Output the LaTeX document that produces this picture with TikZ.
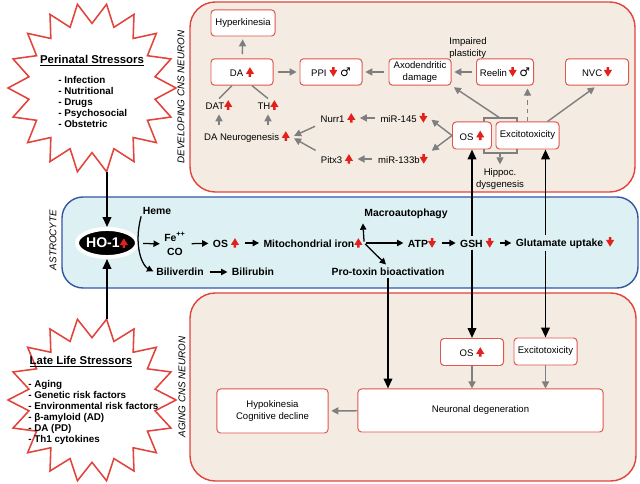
\documentclass[tikz,border=0pt]{standalone}
\usepackage{fontspec}
\setmainfont{Liberation Sans}
\newfontfamily\symfont{DejaVu Sans}
\usepackage{tikz}
\usetikzlibrary{arrows.meta,shapes.geometric}

\definecolor{panelred}{HTML}{E2433A}
\definecolor{boxred}{HTML}{E0574D}
\definecolor{beige}{HTML}{F4ECE2}
\definecolor{astrofill}{HTML}{DDF1F5}
\definecolor{astroblue}{HTML}{3356A6}
\definecolor{arrowgray}{HTML}{7F7F7F}
\definecolor{upred}{HTML}{E3201B}

% small red up / down marks
\newcommand{\upr}{\tikz[baseline=0pt,x=1pt,y=1pt,sharp corners]\path[fill=upred,draw=none] (-0.9,0)--(0.9,0)--(0.9,2)--(2.9,2)--(0,6.8)--(-2.9,2)--(-0.9,2)--cycle;}
\newcommand{\dnr}{\tikz[baseline=0pt,x=1pt,y=1pt,sharp corners]\path[fill=upred,draw=none] (0,0)--(2.9,4.8)--(0.9,4.8)--(0.9,6.8)--(-0.9,6.8)--(-0.9,4.8)--(-2.9,4.8)--cycle;}
\newcommand{\male}{{\symfont\fontsize{8.5}{8.5}\selectfont ♂}}

\begin{document}
\begin{tikzpicture}[x=0.025cm, y=-0.025cm,
  panel/.style={draw=panelred, line width=1pt, fill=beige, rounded corners=18pt},
  box/.style={draw=boxred, line width=0.7pt, fill=white, rounded corners=2.5pt, align=center, inner sep=1pt, font=\fontsize{6.8}{8}\selectfont},
  wbox/.style={box, minimum width=1.55cm, minimum height=0.66cm},
  txt/.style={align=center, inner sep=1pt, font=\fontsize{6.8}{8}\selectfont},
  btxt/.style={align=center, inner sep=1pt, font=\fontsize{7.4}{9}\selectfont\bfseries},
  sidelabel/.style={rotate=90, font=\fontsize{7}{8}\selectfont\itshape},
  starline/.style={draw=panelred, line width=1.1pt, fill=white},
  listtxt/.style={anchor=north west, align=left, inner sep=0pt, font=\fontsize{7}{7.9}\selectfont\bfseries},
  titletxt/.style={font=\fontsize{8.1}{9}\selectfont\bfseries},
  garrow/.style={draw=arrowgray, line width=1pt, -{Triangle[length=5pt,width=5pt]}, shorten <=3pt, shorten >=2pt},
  gline/.style={draw=arrowgray, line width=1pt},
  karrow/.style={draw=black, line width=0.9pt, -{Triangle[length=4.5pt,width=4.5pt]}, shorten <=3pt, shorten >=2pt},
  bigarrow/.style={draw=black, line width=1.4pt, -{Triangle[length=7pt,width=6pt]}}]

\useasboundingbox (0,0) rectangle (640,484);

% stressor stars
\foreach \cy/\ry in {88/85, 400/82}
  \draw[starline, shift={(92,\cy)}] (80:84 and \ry)
    \foreach \k in {0,...,17} {-- ({90+20*\k}:64 and 0.76*\ry) -- ({100+20*\k}:84 and \ry)} -- cycle;

\coordinate (pstar) at (107,172);
\coordinate (lstar) at (107,319);

\node[titletxt] (perinatal) at (92,61) {\underline{Perinatal Stressors}};
\node[listtxt] (perilist) at (58,76) {- Infection\\- Nutritional\\- Drugs\\- Psychosocial\\- Obstetric};

\node[titletxt] (latelife) at (81,362) {\underline{Late Life Stressors}};
\node[listtxt] (latelist) at (28,380) {- Aging\\- Genetic risk factors\\- Environmental risk factors\\- β-amyloid (AD)\\- DA (PD)\\- Th1 cytokines};

% panels
\draw[panel] (190,2) rectangle (635,192);
\draw[panel] (190,293) rectangle (636,481);
\draw[draw=astroblue, line width=1pt, fill=astrofill, rounded corners=15pt] (62,197) rectangle (638,288);

\node[sidelabel] at (181,97) {DEVELOPING CNS NEURON};
\node[sidelabel] at (53,240) {ASTROCYTE};
\node[sidelabel] at (182,387) {AGING CNS NEURON};

% developing neuron
\draw[gline, line width=0.8pt] (484,118) rectangle (517,153);
\coordinate (brtop) at (500,118);
\coordinate (brbot) at (500,153);

\node[box, minimum width=1.6cm, minimum height=0.65cm] (hyper) at (243,23) {Hyperkinesia};
\node[wbox] (da) at (242,72) {DA \upr};
\node[wbox] (ppi) at (331,72) {PPI \dnr\ \male};
\node[wbox] (axo) at (420,72) {Axodendritic\\damage};
\node[box, minimum width=1.425cm, minimum height=0.66cm] (reelin) at (505,72) {Reelin\,\dnr\ \male};
\node[wbox, minimum width=1.575cm] (nvc) at (597,72) {NVC\,\dnr};
\node[txt, align=left] (plast) at (468,48) {Impaired\\plasticity};

\node[txt] (dat) at (219,105) {DAT\upr};
\node[txt] (th) at (268,105) {TH\upr};
\node[txt] (neuro) at (247,137) {DA Neurogenesis \upr};
\node[txt] (nurr) at (338,118) {Nurr1 \upr};
\node[txt] (pitx) at (337,159) {Pitx3 \upr};
\node[txt] (mira) at (404,118) {miR-145 \dnr};
\node[txt] (mirb) at (403,159) {miR-133b\dnr};

\node[box, minimum width=0.975cm, minimum height=0.675cm] (osd) at (472,135.5) {OS \upr};
\node[box, minimum width=1.575cm, minimum height=0.675cm] (exd) at (527.5,135.5) {Excitotoxicity};
\node[txt] (hippo) at (500,179) {Hippoc.\\dysgenesis};

\draw[garrow] (da) -- (hyper);
\draw[garrow] (da) -- (ppi);
\draw[garrow] (axo) -- (ppi);
\draw[garrow] (reelin) -- (axo);
\draw[gline] (dat.north) -- ([xshift=-0.25cm]da.south);
\draw[gline] (th.north) -- ([xshift=0.25cm]da.south);
\draw[garrow] (dat.south |- neuro.north) -- (dat.south);
\draw[garrow] (th.south |- neuro.north) -- (th.south);
\draw[garrow] (nurr.south west) -- (neuro.east);
\draw[garrow] (pitx.north west) -- (neuro.east);
\draw[garrow] (mira) -- (nurr);
\draw[garrow] (mirb) -- (pitx);
\draw[garrow, shorten <=0pt] (osd.west) -- (mira.east);
\draw[garrow, shorten <=0pt] (osd.west) -- (mirb.north east);
\draw[garrow, shorten <=0pt] (brtop) -- (axo.south east);
\draw[garrow, dashed, line width=0.8pt, shorten <=0pt] (exd.north) -- (exd.north |- reelin.south);
\draw[garrow, shorten <=0pt] ([xshift=0.5cm]exd.north) -- (nvc.south);
\draw[garrow, dashed, line width=0.8pt, shorten <=0pt] (brbot) -- (hippo.north);

% astrocyte
\node[ellipse, fill=black, draw=white, line width=2.8pt, minimum width=1.5cm, minimum height=0.7cm, inner sep=0pt, text=white, font=\fontsize{10}{10}\selectfont\bfseries] (ho) at (107,243) {HO-1\upr};
\node[btxt] (heme) at (157,211) {Heme};
\node[btxt, font=\fontsize{7.4}{10}\selectfont\bfseries] (fe) at (175,244) {Fe\textsuperscript{++}\\CO};
\node[btxt] (os) at (226,243) {OS \upr};
\node[btxt] (mito) at (313,243) {Mitochondrial iron\upr};
\node[btxt] (macro) at (406,214) {Macroautophagy};
\node[btxt] (atp) at (422,243) {ATP\dnr};
\node[btxt] (protox) at (388,272) {Pro-toxin bioactivation};
\node[btxt] (gsh) at (477,243) {GSH \dnr};
\node[btxt] (glu) at (565,243) {Glutamate uptake \dnr};
\node[btxt] (biliv) at (180,272) {Biliverdin};
\node[btxt] (bilir) at (253,272) {Bilirubin};

\draw[karrow] (ho) -- (fe);
\draw[karrow] (fe) -- (os);
\draw[karrow] (os) -- (mito);
\draw[karrow, shorten <=1pt] (mito.east) -- (macro.south west);
\draw[karrow, shorten <=1pt] (mito.east) -- (atp.west);
\draw[karrow, shorten <=1pt] (mito.east) -- (protox.north);
\draw[karrow] (atp) -- (gsh);
\draw[karrow] (gsh) -- (glu);
\draw[karrow] (biliv) -- (bilir);
\draw[karrow, shorten <=0pt, shorten >=1pt] (heme.south west) .. controls +(-8,30) and +(-12,-6) .. (biliv.west);

% aging neuron
\node[box, minimum width=1.575cm, minimum height=0.675cm] (osa) at (472,352) {OS \upr};
\node[box, minimum width=1.575cm, minimum height=0.675cm] (exa) at (545.5,351.5) {Excitotoxicity};
\node[box, minimum width=6.125cm, minimum height=1.075cm] (nd) at (480.5,410.5) {Neuronal degeneration};
\node[box, minimum width=2.775cm, minimum height=1.1cm] (hypo) at (272.5,411) {Hypokinesia\\Cognitive decline};

\draw[garrow, shorten <=0pt, shorten >=0pt] (osa.south) -- (osa.south |- nd.north);
\draw[garrow, shorten <=0pt, shorten >=0pt] (exa.south) -- (exa.south |- nd.north);
\draw[garrow, shorten <=0pt] (nd) -- (hypo);

% links between cells
\draw[bigarrow] (pstar) -- (ho.north);
\draw[bigarrow] (lstar) -- (ho.south);
\draw[bigarrow] (gsh.north -| osd.south) -- (osd.south);
\draw[bigarrow] (gsh.south -| osd.south) -- (osa.north -| osd.south);
\draw[bigarrow] (glu.north -| exa.north) -- (exa.north |- exd.south);
\draw[bigarrow] (glu.south -| exa.north) -- (exa.north);
\draw[bigarrow] (protox.south) -- (protox.south |- nd.north);

\end{tikzpicture}
\end{document}
